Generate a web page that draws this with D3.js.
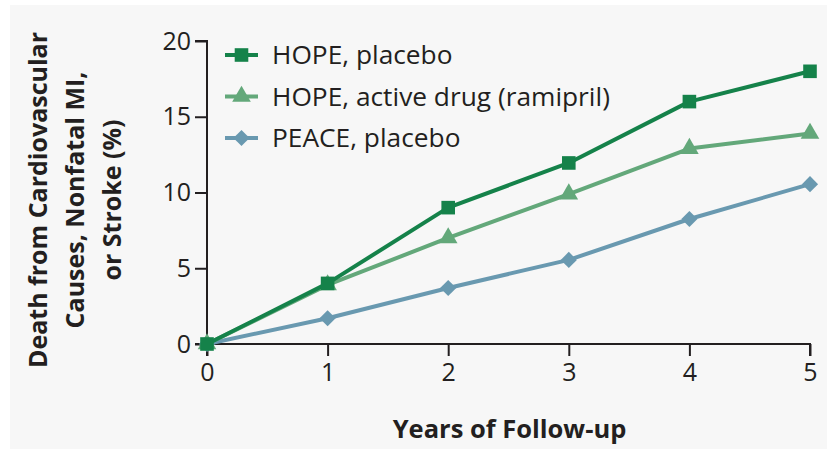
<!DOCTYPE html>
<html>
<head>
<meta charset="utf-8">
<script src="https://cdn.jsdelivr.net/npm/d3@7"></script>
<style>
  body { margin: 0; background: #fff; }
  text { font-family: "Open Sans", "Noto Sans", sans-serif; fill: #231f20; }
</style>
</head>
<body>
<div id="chart"></div>
<script>
var years = [0, 1, 2, 3, 4, 5];
var hopePlacebo = [0, 4.0, 9.0, 11.95, 16.0, 18.0];
var hopeRamipril = [0, 3.9, 7.0, 9.9, 12.9, 13.9];
var peacePlacebo = [0, 1.7, 3.7, 5.55, 8.25, 10.55];
var yTicks = [0, 5, 10, 15, 20];
var seriesNames = ["HOPE, placebo", "HOPE, active drug (ramipril)", "PEACE, placebo"];

var series = [
  {name: seriesNames[0], values: hopePlacebo, color: "#15824a", symbol: d3.symbolSquare, size: 185, rot: 0},
  {name: seriesNames[1], values: hopeRamipril, color: "#63a87a", symbol: d3.symbolTriangle, size: 150, rot: 0},
  {name: seriesNames[2], values: peacePlacebo, color: "#6999b0", symbol: d3.symbolSquare, size: 130, rot: 45}
];

var W = 827, H = 449;
var margin = {top: 41, right: 17, bottom: 105, left: 207};

var svg = d3.select("#chart").append("svg").attr("width", W).attr("height", H);
svg.append("rect").attr("x", 10).attr("y", 5).attr("width", W - 10).attr("height", H - 5).attr("fill", "#f7f7f7");

var g = svg.append("g").attr("transform", "translate(" + margin.left + "," + margin.top + ")");
var width = W - margin.left - margin.right, height = H - margin.top - margin.bottom;

var x = d3.scaleLinear().domain([0, 5]).range([0, width]);
var y = d3.scaleLinear().domain([0, 20]).range([height, 0]);

// axes
var xAxis = g.append("g").attr("transform", "translate(0," + height + ")")
  .call(d3.axisBottom(x).tickValues(years).tickFormat(d3.format("d")).tickSize(12).tickPadding(7));
var yAxis = g.append("g")
  .call(d3.axisLeft(y).tickValues(yTicks).tickSize(12).tickPadding(4));
[xAxis, yAxis].forEach(function(a) {
  a.select(".domain").attr("stroke", "#231f20").attr("stroke-width", 2);
  a.selectAll(".tick line").attr("stroke", "#231f20").attr("stroke-width", 2);
  a.selectAll(".tick text").attr("font-size", 25).attr("fill", "#231f20")
    .attr("font-family", "'Open Sans', sans-serif");
});
xAxis.select(".domain").attr("d", "M0,12V0H" + width + "V12");
yAxis.select(".domain").attr("d", "M-12,0H0V" + height + "H-12");

function marker(s) {
  return function(d, i) {
    return "translate(" + x(years[i]) + "," + y(d) + ") rotate(" + s.rot + ")";
  };
}

// lines
var line = d3.line().x(function(d, i) { return x(years[i]); }).y(function(d) { return y(d); });
series.slice().reverse().forEach(function(s) {
  g.append("path").datum(s.values).attr("d", line)
    .attr("fill", "none").attr("stroke", s.color).attr("stroke-width", 4).attr("stroke-linejoin", "round");
  g.selectAll(null).data(s.values).enter().append("path")
    .attr("transform", marker(s))
    .attr("d", d3.symbol().type(s.symbol).size(s.size))
    .attr("fill", s.color);
});

// legend
var legend = g.append("g").attr("transform", "translate(18,14)");
series.forEach(function(s, i) {
  var row = legend.append("g").attr("transform", "translate(0," + (i * 41.5) + ")");
  row.append("line").attr("x1", 0).attr("x2", 33).attr("stroke", s.color).attr("stroke-width", 4);
  row.append("path").attr("transform", "translate(16.5,0) rotate(" + s.rot + ")")
    .attr("d", d3.symbol().type(s.symbol).size(s.size)).attr("fill", s.color);
  row.append("text").attr("x", 47).attr("dy", "0.36em").attr("font-size", 26.3).text(s.name);
});

// axis titles
svg.append("text").attr("x", margin.left + width / 2 + 1).attr("y", 438)
  .attr("text-anchor", "middle").attr("font-size", 25.5).attr("font-weight", "bold")
  .text("Years of Follow-up");

var yTitle = svg.append("text").attr("transform", "translate(0,200) rotate(-90)")
  .attr("text-anchor", "middle").attr("font-size", 25).attr("font-weight", "bold");
["Death from Cardiovascular", "Causes, Nonfatal MI,", "or Stroke (%)"].forEach(function(t, i) {
  yTitle.append("tspan").attr("x", 0).attr("y", 47 + i * 37).text(t);
});
</script>
</body>
</html>
